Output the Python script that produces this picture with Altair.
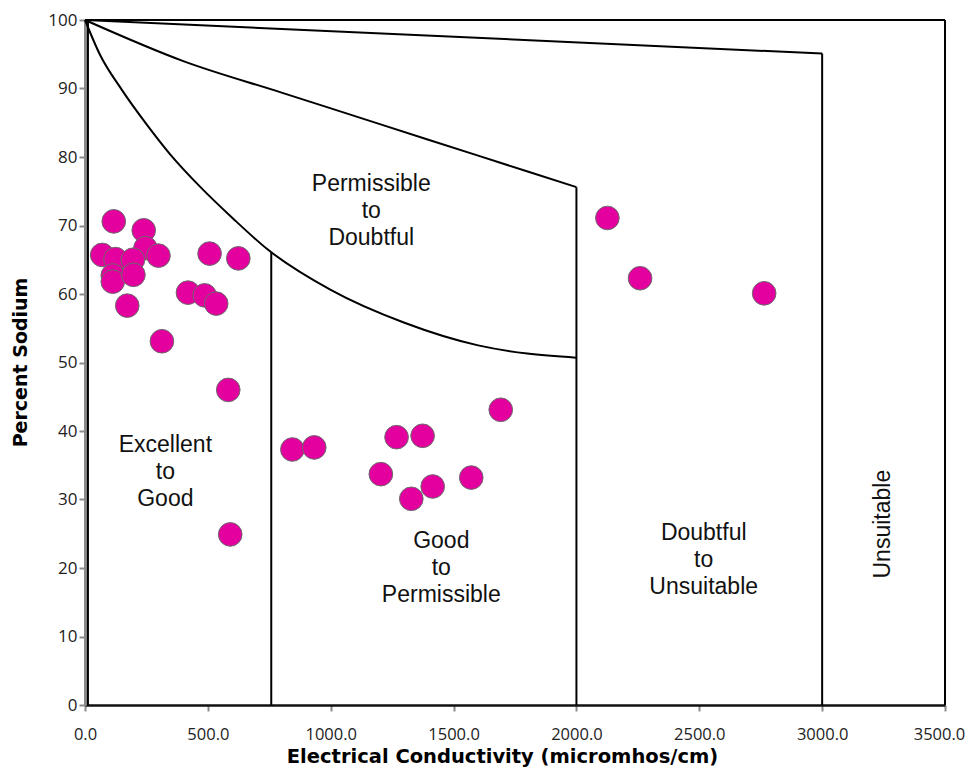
import altair as alt
import pandas as pd

# Sample points: electrical conductivity (micromhos/cm) and percent sodium
ec = [117, 239, 70, 124, 246, 195, 299, 507, 624, 113, 113, 197, 172, 419, 487, 534, 313,
      583, 591, 844, 933, 1268, 1374, 1692, 1204, 1415, 1328, 1572, 2126, 2259, 2764]
na = [70.6, 69.3, 65.7, 65.1, 66.7, 65.0, 65.6, 65.9, 65.2, 62.7, 61.8, 62.8, 58.3, 60.2, 59.8, 58.6, 53.1,
      46.0, 24.9, 37.3, 37.6, 39.1, 39.3, 43.1, 33.7, 31.9, 30.1, 33.2, 71.1, 62.3, 60.1]

# Class boundary curves (Wilcox diagram)
curve_low_ec = [0, 60, 150, 250, 344, 470, 600, 740, 1000, 1300, 1600, 1800, 2000]
curve_low_na = [100, 95.0, 89.8, 84.8, 80.5, 75.6, 71.1, 66.6, 60.6, 55.8, 52.5, 51.3, 50.7]
curve_mid_ec = [0, 400, 800, 1200, 1600, 2000]
curve_mid_na = [100, 94.0, 89.4, 84.8, 80.2, 75.6]
curve_top_ec = [0, 3000]
curve_top_na = [100, 95.1]

# Vertical boundaries
vert_ec = [12, 758, 2000, 3000, 3500]
vert_top = [100, 66.1, 75.6, 95.1, 100]

# Region labels
label_text = ["Permissible\nto\nDoubtful", "Excellent\nto\nGood", "Good\nto\nPermissible",
              "Doubtful\nto\nUnsuitable"]
label_ec = [1165, 327, 1450, 2518]
label_na = [75.0, 37.0, 22.9, 24.1]
rot_text = ["Unsuitable"]
rot_ec = [3247]
rot_na = [26.4]

x_ticks = [0, 500, 1000, 1500, 2000, 2500, 3000, 3500]
y_ticks = [0, 10, 20, 30, 40, 50, 60, 70, 80, 90, 100]

pts = pd.DataFrame({"ec": ec, "na": na})
curves = pd.DataFrame({
    "ec": curve_low_ec + curve_mid_ec + curve_top_ec,
    "na": curve_low_na + curve_mid_na + curve_top_na,
    "line": ["low"] * len(curve_low_ec) + ["mid"] * len(curve_mid_ec) + ["top"] * len(curve_top_ec),
})
verts = pd.DataFrame({"ec": vert_ec, "y0": [0] * len(vert_ec), "y1": vert_top})
top = pd.DataFrame({"x0": [0], "x1": [3500], "na": [100]})
labels = pd.DataFrame({"ec": label_ec, "na": label_na, "t": label_text})
rot = pd.DataFrame({"ec": rot_ec, "na": rot_na, "t": rot_text})

xs = alt.Scale(domain=[0, 3500], nice=False, zero=False)
ys = alt.Scale(domain=[0, 100], nice=False, zero=False)
XT = "Electrical Conductivity (micromhos/cm)"
YT = "Percent Sodium"

xaxis = alt.Axis(values=x_ticks, format=".1f", grid=False,
                 domainColor="#111111", domainWidth=2.5,
                 tickColor="#8a8a8a", tickWidth=2, tickSize=6,
                 labelFont="Open Sans", labelFontSize=16.5, labelColor="#222222",
                 labelBaseline="alphabetic", labelPadding=28, labelFlush=False,
                 labelOffset={"condition": {"test": "datum.value == 3500", "value": -6}, "value": 0},
                 titleFont="DejaVu Sans", titleFontSize=19.5, titleFontWeight="bold",
                 titleColor="#000000", titleBaseline="alphabetic", titleY=57, titleX=417,
                 titleAlign="center")
yaxis = alt.Axis(values=y_ticks, format="d", grid=False,
                 domainColor="#8a8a8a", domainWidth=3,
                 tickColor="#8a8a8a", tickWidth=2, tickSize=6,
                 labelFont="Open Sans", labelFontSize=17, labelColor="#222222",
                 labelPadding=2, labelFlush=False,
                 titleFont="DejaVu Sans", titleFontSize=19, titleFontWeight="bold",
                 titleColor="#000000", titleX=-65, titleY=342, titleAngle=270,
                 titleBaseline="middle", titleAlign="center")


def X(field):
    return alt.X(field, type="quantitative", scale=xs, axis=xaxis, title=XT)


def Y(field):
    return alt.Y(field, type="quantitative", scale=ys, axis=yaxis, title=YT)


curve_layer = alt.Chart(curves).mark_line(
    color="black", strokeWidth=2, interpolate="monotone"
).encode(x=X("ec"), y=Y("na"), detail="line:N")

vert_layer = alt.Chart(verts).mark_rule(color="black", strokeWidth=2).encode(
    x=X("ec"), y=Y("y0"), y2="y1:Q"
)

top_layer = alt.Chart(top).mark_rule(color="black", strokeWidth=2).encode(
    x=X("x0"), x2="x1:Q", y=Y("na")
)

point_layer = alt.Chart(pts).mark_circle(
    size=560, color="#E4009F", stroke="#6b6b6b", strokeWidth=1, opacity=1
).encode(x=X("ec"), y=Y("na"))

text_layer = alt.Chart(labels).mark_text(
    font="Liberation Sans", fontSize=23, lineBreak="\n", lineHeight=27,
    align="center", baseline="alphabetic", color="#111111"
).encode(x=X("ec"), y=Y("na"), text="t:N")

rot_layer = alt.Chart(rot).mark_text(
    font="Liberation Sans", fontSize=23, angle=270,
    align="center", baseline="middle", color="#111111"
).encode(x=X("ec"), y=Y("na"), text="t:N")

chart = alt.layer(
    curve_layer, vert_layer, top_layer, point_layer, text_layer, rot_layer
).properties(
    width=860, height=685,
    autosize=alt.AutoSizeParams(type="none"),
    padding={"left": 77, "top": 12, "right": 21, "bottom": 62},
    background="white",
).configure_view(stroke=None)

chart.save("out.html", embed_options={"renderer": "svg", "actions": False})
